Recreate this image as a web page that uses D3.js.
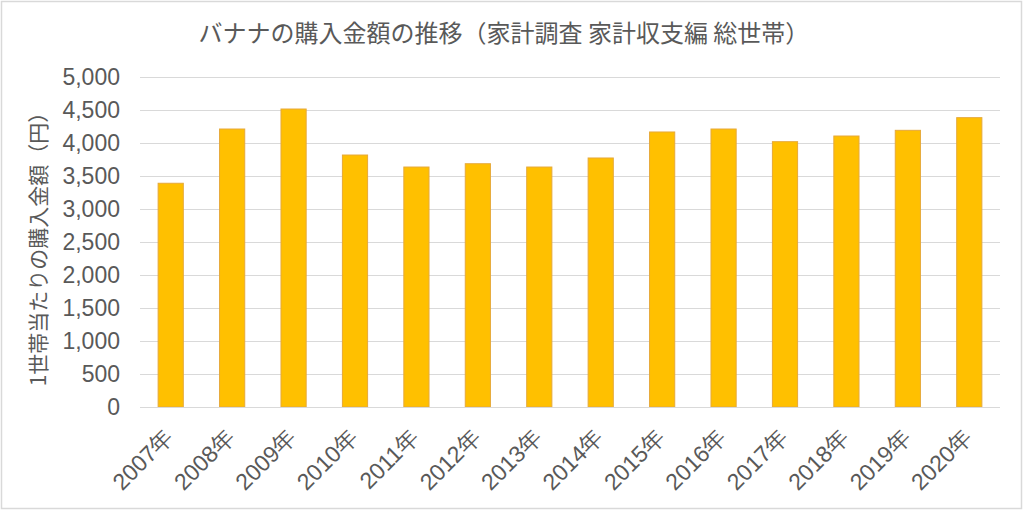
<!DOCTYPE html>
<html><head><meta charset="utf-8">
<script src="https://cdn.jsdelivr.net/npm/d3@7"></script>
<style>body{margin:0;background:#fff;}svg{display:block;font-family:"Liberation Sans","Noto Sans CJK JP",sans-serif;}</style>
</head><body><svg id="c" width="1024" height="512"></svg>
<script>
const categories = ["2007年","2008年","2009年","2010年","2011年","2012年","2013年","2014年","2015年","2016年","2017年","2018年","2019年","2020年"];
const values = [3390,4212,4515,3818,3636,3686,3636,3773,4167,4212,4020,4106,4192,4384];
const yTicks = [0,500,1000,1500,2000,2500,3000,3500,4000,4500,5000];
const title = "バナナの購入金額の推移（家計調査 家計収支編 総世帯）";
const yLabel = "1世帯当たりの購入金額（円）";

const svg = d3.select("#c");
svg.append("rect").attr("x",1.5).attr("y",1.5).attr("width",1020).attr("height",507)
  .attr("fill","#fff").attr("stroke","#d9d9d9").attr("stroke-width",1.5);

const m = {left:140, right:1000, top:77, bottom:407};
const x = d3.scaleBand().domain(categories).range([m.left,m.right]).paddingInner(0.59).paddingOuter(0.295);
const y = d3.scaleLinear().domain([0,5000]).range([m.bottom,m.top]);

const grid = svg.append("g");
grid.selectAll("line").data(yTicks).join("line")
  .attr("x1",m.left).attr("x2",m.right)
  .attr("y1",d=>Math.round(y(d))+0.5).attr("y2",d=>Math.round(y(d))+0.5)
  .attr("stroke","#d9d9d9").attr("stroke-width",1);

const yAxis = svg.append("g").attr("transform",`translate(${m.left},0)`)
  .call(d3.axisLeft(y).tickValues(yTicks).tickFormat(d3.format(",")).tickSize(0).tickPadding(20));
yAxis.select(".domain").remove();
yAxis.selectAll("text").attr("fill","#595959").style("font-size","23px");

svg.append("g").selectAll("rect").data(values).join("rect")
  .attr("x",(d,i)=>x(categories[i])).attr("width",x.bandwidth())
  .attr("y",d=>y(d)).attr("height",d=>y(0)-y(d))
  .attr("fill","#FFC000").attr("stroke","#E6A93A").attr("stroke-width",1);

svg.append("line").attr("x1",m.left).attr("x2",m.right).attr("y1",m.bottom+0.5).attr("y2",m.bottom+0.5)
  .attr("stroke","#d9d9d9");

const xAxis = svg.append("g").attr("transform",`translate(0,${m.bottom})`)
  .call(d3.axisBottom(x).tickSize(0).tickPadding(0));
xAxis.select(".domain").remove();
xAxis.selectAll("text")
  .attr("fill","#595959").style("font-size","23px")
  .attr("text-anchor","end").attr("dy",null).attr("y",0)
  .attr("transform","translate(4,32) rotate(-45)");

svg.append("text").attr("x",504).attr("y",42).attr("text-anchor","middle")
  .attr("fill","#595959").style("font-size","24px").style("font-family","'Noto Sans CJK JP',sans-serif").text(title);

svg.append("text").attr("transform","translate(46,244) rotate(-90)").attr("text-anchor","middle")
  .attr("fill","#595959").style("font-size","21px").style("font-family","'Noto Sans CJK JP',sans-serif").text(yLabel);
</script></body></html>
